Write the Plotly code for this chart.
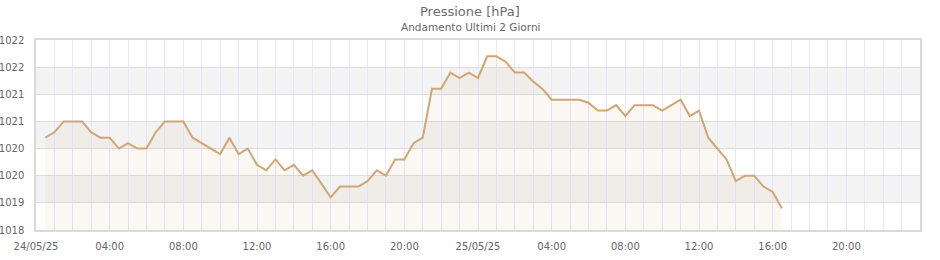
import pandas as pd
import plotly.graph_objects as go

# ---- data ----
start_time = "2025-05-24 00:30"
n_points = 81
pressure = [
    1020.32, 1020.43, 1020.65, 1020.65, 1020.65, 1020.43, 1020.32, 1020.32,
    1020.10, 1020.21, 1020.10, 1020.10, 1020.43, 1020.65, 1020.65, 1020.65,
    1020.32, 1020.21, 1020.10, 1019.99, 1020.32, 1019.99, 1020.10, 1019.77,
    1019.66, 1019.88, 1019.66, 1019.77, 1019.55, 1019.66, 1019.39, 1019.11,
    1019.33, 1019.33, 1019.33, 1019.44, 1019.66, 1019.55, 1019.88, 1019.88,
    1020.21, 1020.32, 1021.31, 1021.31, 1021.64, 1021.53, 1021.64, 1021.53,
    1021.97, 1021.97, 1021.86, 1021.64, 1021.64, 1021.46, 1021.31, 1021.09,
    1021.09, 1021.09, 1021.09, 1021.03, 1020.87, 1020.87, 1020.98, 1020.76,
    1020.98, 1020.98, 1020.98, 1020.87, 1020.98, 1021.09, 1020.76, 1020.87,
    1020.32, 1020.10, 1019.88, 1019.44, 1019.55, 1019.55, 1019.33, 1019.22,
    1018.89,
]
times = pd.date_range(start_time, periods=n_points, freq="30min")

ytick_vals = [1018.45, 1019.00, 1019.55, 1020.10, 1020.65, 1021.20, 1021.75, 1022.30]
ytick_text = ["1018", "1019", "1020", "1020", "1021", "1021", "1022", "1022"]

xtick_vals = ["2025-05-24 00:00", "2025-05-24 04:00", "2025-05-24 08:00",
              "2025-05-24 12:00", "2025-05-24 16:00", "2025-05-24 20:00",
              "2025-05-25 00:00", "2025-05-25 04:00", "2025-05-25 08:00",
              "2025-05-25 12:00", "2025-05-25 16:00", "2025-05-25 20:00"]
xtick_text = ["24/05/25", "04:00", "08:00", "12:00", "16:00", "20:00",
              "25/05/25", "04:00", "08:00", "12:00", "16:00", "20:00"]
x_range = ["2025-05-24 00:00", "2025-05-26 00:00"]

title_text = "Pressione [hPa]"
subtitle_text = "Andamento Ultimi 2 Giorni"

LINE = "#cfa674"
FONT = "DejaVu Sans"

fig = go.Figure()
fig.add_trace(go.Scatter(
    x=times, y=pressure, mode="lines",
    line=dict(color=LINE, width=2),
    fill="tozeroy", fillcolor="rgba(205,162,110,0.08)",
    hoverinfo="x+y", showlegend=False,
))

# alternating background bands between gridlines
shapes = []
for i in range(1, len(ytick_vals) - 1, 2):
    shapes.append(dict(type="rect", xref="paper", yref="y", layer="below",
                       x0=0, x1=1, y0=ytick_vals[i], y1=ytick_vals[i + 1],
                       fillcolor="#f3f3f3", line=dict(width=0)))

fig.update_layout(
    width=940, height=260,
    margin=dict(l=36, r=20, t=40, b=30),
    paper_bgcolor="white", plot_bgcolor="white",
    font=dict(family=FONT, size=10, color="#666666"),
    shapes=shapes,
    annotations=[
        dict(text=title_text, xref="paper", yref="paper", x=0.491, y=1.152,
             xanchor="center", yanchor="middle", showarrow=False,
             font=dict(family=FONT, size=13, color="#6e6e6e")),
        dict(text=subtitle_text, xref="paper", yref="paper", x=0.491, y=1.066,
             xanchor="center", yanchor="middle", showarrow=False,
             font=dict(family=FONT, size=10.5, color="#666666")),
    ],
)
fig.update_xaxes(
    type="date", range=x_range, automargin=False,
    tickmode="array", tickvals=xtick_vals, ticktext=xtick_text,
    showgrid=True, gridcolor="#e9e7f7", gridwidth=1,
    minor=dict(dtick=3600000, tick0="2025-05-24", showgrid=True,
               gridcolor="#e9e7f7", gridwidth=1),
    showline=True, mirror=True, linecolor="#d9d9d9", linewidth=1.5,
    ticks="", ticklabelstandoff=6, zeroline=False,
    tickfont=dict(family=FONT, size=10, color="#666666"),
)
fig.update_yaxes(
    range=[ytick_vals[0], ytick_vals[-1]], automargin=False,
    tickmode="array", tickvals=ytick_vals, ticktext=ytick_text,
    showgrid=True, gridcolor="#dedede", gridwidth=1,
    showline=True, mirror=True, linecolor="#d9d9d9", linewidth=1.5,
    ticks="", ticklabelstandoff=8, zeroline=False,
    tickfont=dict(family=FONT, size=10, color="#666666"),
)

fig.write_html("out.html")
